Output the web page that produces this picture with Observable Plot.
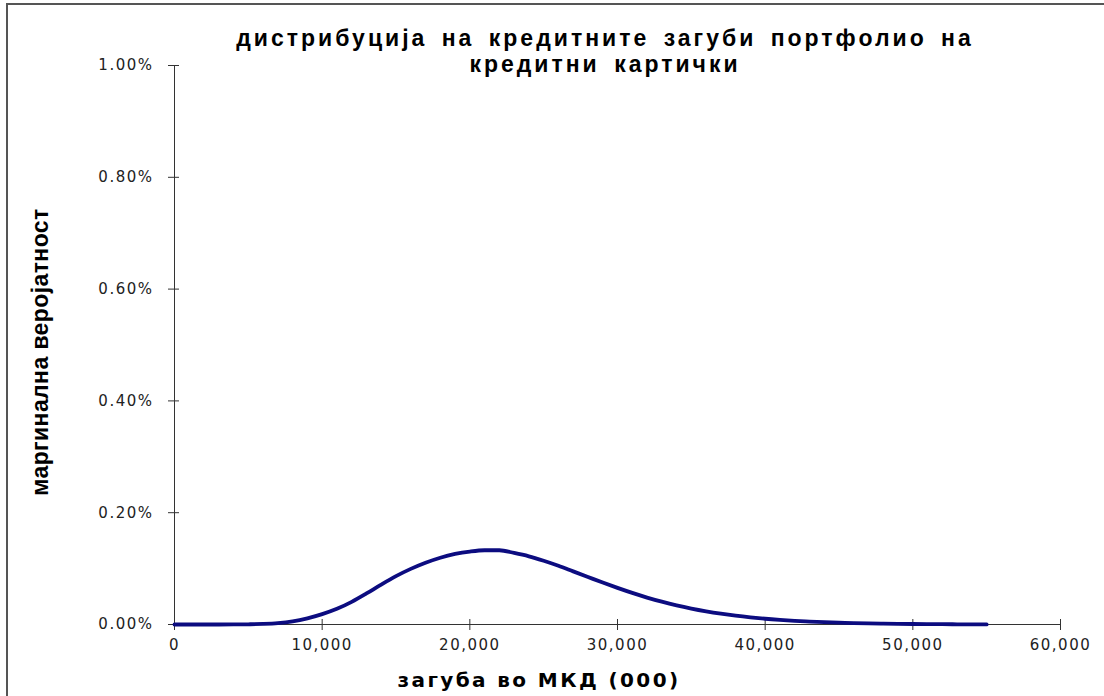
<!DOCTYPE html>
<html>
<head>
<meta charset="utf-8">
<script src="https://cdn.jsdelivr.net/npm/d3@7"></script>
<script src="https://cdn.jsdelivr.net/npm/@observablehq/plot@0.6"></script>
<style>
  html, body { margin: 0; padding: 0; background: #fff; }
  #wrap { position: relative; width: 1104px; height: 696px; overflow: hidden; background: #fff; }
  #wrap svg { position: absolute; left: 0; top: 0; }
  .frame-top { position: absolute; left: 6px; top: 3px; width: 1100px; height: 2px; background: #555; }
  .frame-left { position: absolute; left: 6px; top: 3px; width: 2px; height: 700px; background: #555; }
  .title { position: absolute; left: 155px; width: 900px; top: 25px; text-align: center;
           font-family: "Liberation Sans", Arial, sans-serif; font-weight: bold; font-size: 23px;
           line-height: 26px; letter-spacing: 3px; word-spacing: 5px; color: #000; }
  .xlabel { position: absolute; left: 289px; width: 500px; top: 668px; text-align: center;
            font-family: "DejaVu Sans", sans-serif; font-weight: bold; font-size: 20px;
            letter-spacing: 2.4px; color: #000; }
  .ylabel { position: absolute; left: 40px; top: 352px; transform: translate(-50%, -50%) rotate(-90deg);
            white-space: nowrap; font-family: "Liberation Sans", Arial, sans-serif; font-weight: bold;
            font-size: 23px; letter-spacing: 0.4px; color: #000; }
  #wrap svg text { letter-spacing: 1.5px; }
</style>
</head>
<body>
<div id="wrap">
  <div class="frame-top"></div>
  <div class="frame-left"></div>
  <div class="title">дистрибуција на кредитните загуби портфолио на<br>кредитни картички</div>
  <div class="ylabel">маргинална веројатност</div>
  <div class="xlabel">загуба во МКД (000)</div>
</div>
<script>
// Loss amount in MKD thousands
const loss = [
  0, 1000, 2000, 3000, 4000, 5000, 6000, 7000, 8000, 9000,
  10000, 11000, 12000, 13000, 14000, 15000, 16000, 17000, 18000, 19000,
  20000, 21000, 22000, 23000, 24000, 25000, 26000, 27000, 28000, 29000,
  30000, 31000, 32000, 33000, 34000, 35000, 36000, 37000, 38000, 39000,
  40000, 41000, 42000, 43000, 44000, 45000, 46000, 47000, 48000, 49000,
  50000, 51000, 52000, 53000, 54000, 55000
];
// Marginal probability of each loss level, in percent
const probabilityPct = [
  0, 0, 0, 0, 0.0001, 0.0004, 0.0010, 0.0024, 0.0055, 0.0110,
  0.0185, 0.0280, 0.0405, 0.0555, 0.0715, 0.0865, 0.0995, 0.1105, 0.1195, 0.1262,
  0.1305, 0.1328, 0.1328, 0.1280, 0.1220, 0.1140, 0.1050, 0.0950, 0.0850, 0.0750,
  0.0655, 0.0565, 0.0482, 0.0408, 0.0342, 0.0285, 0.0236, 0.0194, 0.0158, 0.0128,
  0.0103, 0.0083, 0.0066, 0.0053, 0.0042, 0.0033, 0.0026, 0.0020, 0.0016, 0.0012,
  0.0009, 0.0007, 0.0005, 0.0004, 0.0003, 0.0002
];
const xTicks = [0, 10000, 20000, 30000, 40000, 50000, 60000];
const yTicks = [0, 0.002, 0.004, 0.006, 0.008, 0.010];

const data = loss.map((x, i) => ({x, p: probabilityPct[i] / 100}));

const axisColor = "#333";
const tickFont = "DejaVu Sans, sans-serif";

const chart = Plot.plot({
  width: 1104,
  height: 696,
  marginLeft: 174,
  marginRight: 44,
  marginTop: 65,
  marginBottom: 72,
  style: {background: "transparent", fontFamily: tickFont, fontSize: "15px", color: "#222"},
  x: {domain: [0, 60000]},
  y: {domain: [0, 0.01]},
  marks: [
    Plot.ruleY([0], {stroke: axisColor}),
    Plot.ruleX([0], {stroke: axisColor}),
    Plot.axisX({ticks: xTicks, tickSize: 11, dy: -5, text: null, stroke: axisColor, label: null}),
    Plot.axisX({ticks: xTicks, tickSize: 0, tickPadding: 15, tickFormat: d3.format(","), label: null, fill: "#222", fontSize: 15}),
    Plot.axisY({ticks: yTicks, tickSize: 11, dx: 5, text: null, stroke: axisColor, label: null}),
    Plot.axisY({ticks: yTicks, tickSize: 0, tickPadding: 21, tickFormat: d3.format(".2%"), label: null, fill: "#222", fontSize: 15}),
    Plot.line(data, {x: "x", y: "p", stroke: "#0c0c80", strokeWidth: 3.8, curve: "monotone-x"})
  ]
});
document.getElementById("wrap").prepend(chart);
</script>
</body>
</html>
